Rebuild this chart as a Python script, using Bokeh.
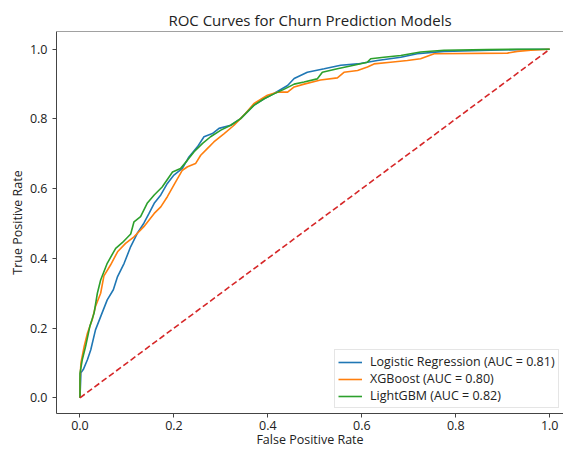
from bokeh.plotting import figure
from bokeh.models import FixedTicker, PrintfTickFormatter, Span, Range1d, Legend, LegendItem
from bokeh.embed import file_html
from bokeh.resources import INLINE

# ---- data ----
lr_fpr = [0.0, 0.002, 0.007, 0.016, 0.023, 0.033, 0.044, 0.058, 0.071, 0.080, 0.094, 0.108,
          0.122, 0.136, 0.147, 0.158, 0.172, 0.186, 0.200, 0.218, 0.232, 0.250, 0.264, 0.282,
          0.296, 0.321, 0.342, 0.370, 0.392, 0.413, 0.442, 0.456, 0.484, 0.520, 0.555, 0.591,
          0.633, 0.683, 0.718, 0.775, 0.874, 0.931, 1.0]
lr_tpr = [0.0, 0.072, 0.081, 0.110, 0.138, 0.195, 0.233, 0.281, 0.310, 0.348, 0.386, 0.434,
          0.472, 0.501, 0.529, 0.558, 0.582, 0.615, 0.639, 0.658, 0.691, 0.720, 0.749, 0.758,
          0.773, 0.782, 0.801, 0.839, 0.858, 0.873, 0.896, 0.916, 0.934, 0.944, 0.954, 0.958,
          0.968, 0.977, 0.987, 0.994, 0.997, 0.999, 1.0]

xgb_fpr = [0.0, 0.0, 0.002, 0.009, 0.016, 0.026, 0.033, 0.044, 0.051, 0.065, 0.080, 0.097,
           0.115, 0.136, 0.158, 0.172, 0.186, 0.204, 0.218, 0.229, 0.246, 0.257, 0.271, 0.285,
           0.307, 0.328, 0.349, 0.370, 0.399, 0.420, 0.442, 0.456, 0.477, 0.512, 0.548, 0.562,
           0.591, 0.612, 0.626, 0.661, 0.697, 0.725, 0.754, 0.910, 0.931, 0.960, 1.0]
xgb_tpr = [0.0, 0.050, 0.100, 0.148, 0.186, 0.224, 0.262, 0.300, 0.350, 0.381, 0.419, 0.443,
           0.462, 0.491, 0.529, 0.548, 0.577, 0.620, 0.653, 0.663, 0.672, 0.696, 0.715, 0.734,
           0.758, 0.782, 0.811, 0.844, 0.868, 0.877, 0.877, 0.892, 0.900, 0.912, 0.918, 0.934,
           0.939, 0.949, 0.958, 0.963, 0.968, 0.973, 0.987, 0.989, 0.994, 0.997, 1.0]

lgbm_fpr = [0.0, 0.0, 0.005, 0.012, 0.021, 0.030, 0.037, 0.044, 0.058, 0.076, 0.090, 0.108,
            0.115, 0.129, 0.143, 0.158, 0.175, 0.197, 0.214, 0.229, 0.243, 0.261, 0.278, 0.300,
            0.321, 0.342, 0.370, 0.392, 0.413, 0.434, 0.456, 0.477, 0.505, 0.516, 0.548, 0.583,
            0.612, 0.619, 0.647, 0.683, 0.725, 0.775, 0.867, 0.931, 1.0]
lgbm_tpr = [0.0, 0.070, 0.110, 0.148, 0.205, 0.243, 0.300, 0.338, 0.386, 0.429, 0.445, 0.470,
            0.505, 0.520, 0.558, 0.582, 0.605, 0.648, 0.658, 0.682, 0.706, 0.730, 0.749, 0.768,
            0.782, 0.801, 0.839, 0.858, 0.872, 0.885, 0.900, 0.906, 0.915, 0.934, 0.944, 0.954,
            0.963, 0.973, 0.977, 0.982, 0.992, 0.997, 0.999, 1.0, 1.0]

chance_x = [0.0, 1.0]
chance_y = [0.0, 1.0]

series_labels = ["Logistic Regression (AUC = 0.81)", "XGBoost (AUC = 0.80)", "LightGBM (AUC = 0.82)"]
tick_values = [0.0, 0.2, 0.4, 0.6, 0.8, 1.0]

FONT = "Open Sans"
FS = "12.5px"
p = figure(width=563, height=450, output_backend="svg", toolbar_location=None,
           x_range=Range1d(-0.05, 1.0294), y_range=Range1d(-0.045, 1.051),
           min_border_left=56, min_border_right=0, min_border_top=31, min_border_bottom=36,
           title="ROC Curves for Churn Prediction Models")

p.title.align = "center"
p.title.text_font = FONT
p.title.text_font_size = "15px"
p.title.text_font_style = "normal"
p.title.text_color = "#222222"
p.title.standoff = 3
p.title.offset = 0

p.grid.visible = False
p.outline_line_color = None
p.add_layout(Span(location=1.051, dimension="width", line_color="#444444", line_width=1))

for ax in (p.xaxis[0], p.yaxis[0]):
    ax.ticker = FixedTicker(ticks=tick_values)
    ax.formatter = PrintfTickFormatter(format="%.1f")
    ax.minor_tick_line_color = None
    ax.major_tick_out = 4
    ax.major_tick_in = 0
    ax.axis_line_color = "#444444"
    ax.major_tick_line_color = "#444444"
    ax.major_label_text_font = FONT
    ax.major_label_text_font_size = FS
    ax.major_label_text_color = "#222222"
    ax.axis_label_text_font = FONT
    ax.axis_label_text_font_size = FS
    ax.axis_label_text_font_style = "normal"
    ax.axis_label_text_color = "#222222"

p.xaxis[0].major_label_standoff = 3
p.xaxis[0].axis_label_standoff = -2
p.yaxis[0].major_label_standoff = 5
p.yaxis[0].axis_label_standoff = 1

p.xaxis.axis_label = "False Positive Rate"
p.yaxis.axis_label = "True Positive Rate"

r_lr = p.line(lr_fpr, lr_tpr, line_color="#1f77b4", line_width=1.6)
r_xgb = p.line(xgb_fpr, xgb_tpr, line_color="#ff7f0e", line_width=1.6)
r_lgbm = p.line(lgbm_fpr, lgbm_tpr, line_color="#2ca02c", line_width=1.6)
p.line(chance_x, chance_y, line_color="#d62728", line_width=1.6, line_dash="6 3")

legend = Legend(items=[LegendItem(label=series_labels[0], renderers=[r_lr]),
                       LegendItem(label=series_labels[1], renderers=[r_xgb]),
                       LegendItem(label=series_labels[2], renderers=[r_lgbm])],
                location=(278, 5))
legend.label_text_font = FONT
legend.label_text_font_size = FS
legend.label_text_color = "#222222"
legend.glyph_width = 24
legend.glyph_height = 16
legend.label_height = 16
legend.label_standoff = 8
legend.spacing = 0
legend.padding = 3
legend.margin = 0
legend.border_line_color = "#cccccc"
legend.border_line_width = 1
legend.background_fill_alpha = 0.9
p.add_layout(legend)

open("out.html", "w").write(file_html(p, INLINE))
